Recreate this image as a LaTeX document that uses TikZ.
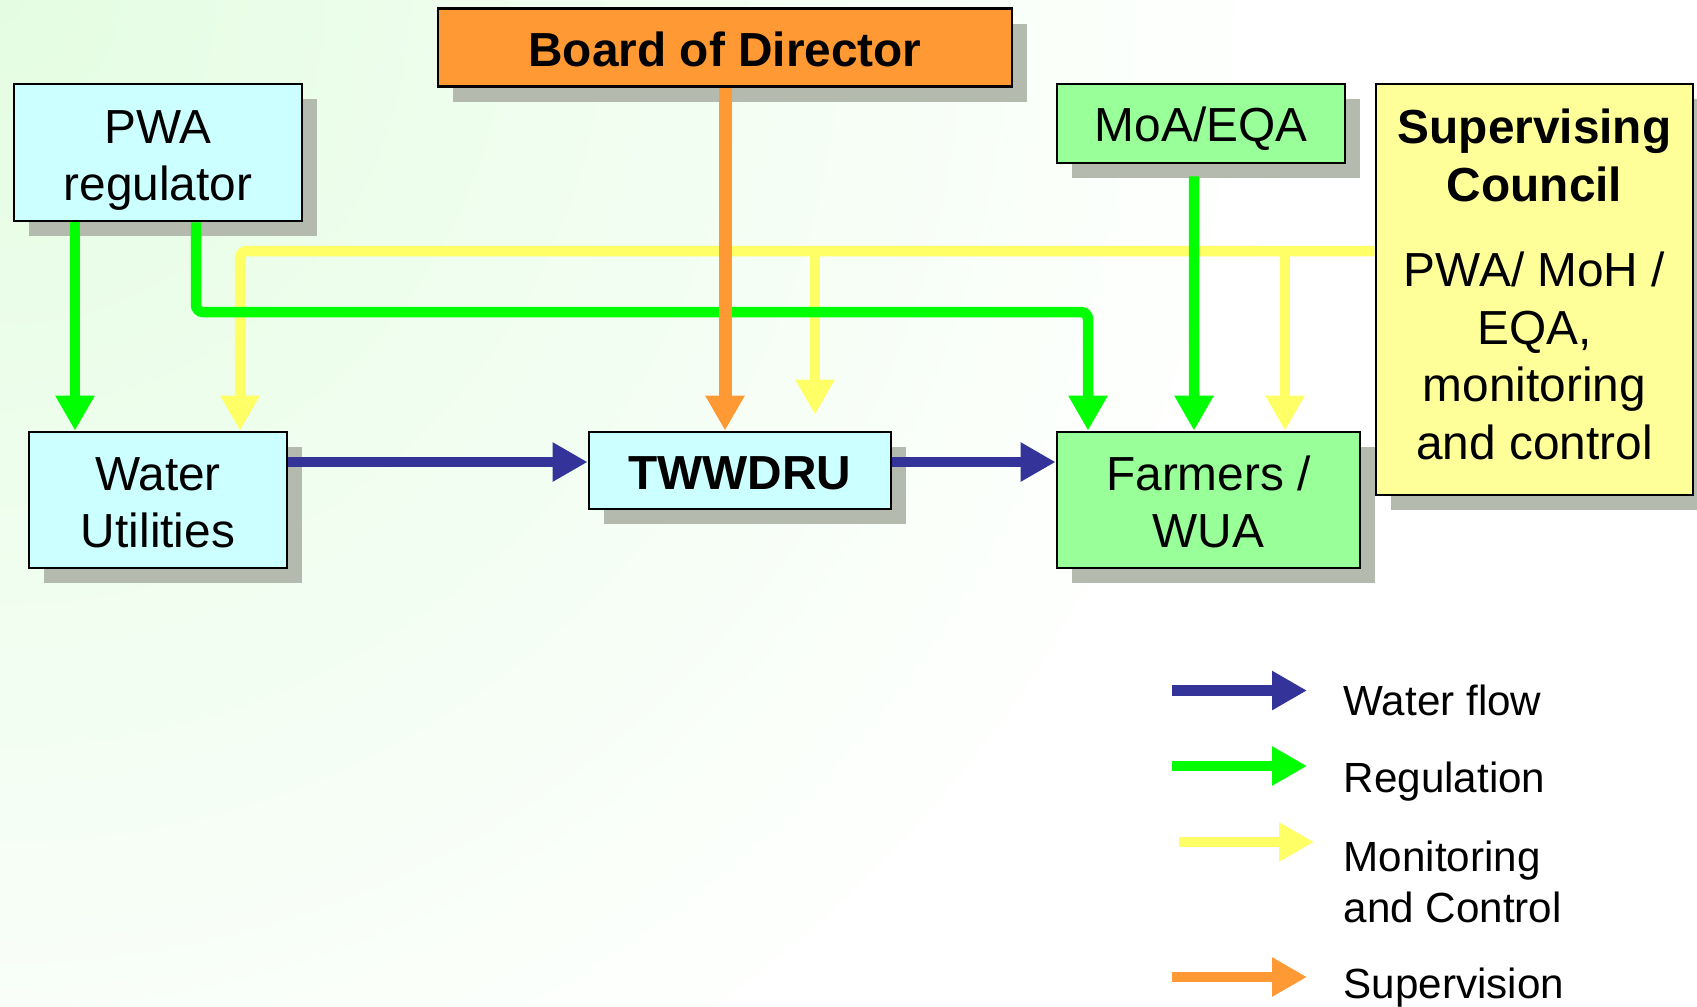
\documentclass[tikz,border=0pt]{standalone}
\usepackage{fontspec}
\setmainfont{Liberation Sans}
\usetikzlibrary{positioning, arrows.meta, shadows}

\definecolor{boxcyan}{RGB}{204,255,255}
\definecolor{boxgreen}{RGB}{153,255,153}
\definecolor{boxyellow}{RGB}{255,255,153}
\definecolor{boxorange}{RGB}{255,153,51}
\definecolor{flowblue}{RGB}{51,51,153}
\definecolor{reggreen}{RGB}{0,255,0}
\definecolor{monyellow}{RGB}{255,255,102}
\definecolor{shadowgray}{RGB}{180,186,174}
\definecolor{bggreen}{RGB}{228,253,226}

\begin{document}
\begin{tikzpicture}[
    unit/.style={draw, line width=0.8pt, inner sep=0pt,
        drop shadow={shadow xshift=0.15cm, shadow yshift=-0.15cm, fill=shadowgray, opacity=1}},
    agency/.style={unit, fill=boxcyan},
    field/.style={unit, fill=boxgreen},
    council/.style={unit, fill=boxyellow},
    board/.style={unit, fill=boxorange},
    boxtext/.style={align=center, inner sep=0pt, font=\fontsize{13.6}{16.2}\selectfont},
    key/.style={anchor=west, align=left, inner sep=0pt, font=\fontsize{12}{14.5}\selectfont},
    arr/.style={-{Triangle[length=0.35cm, width=0.37cm]}, line width=0.105cm},
    flowarr/.style={arr, flowblue},
    regarr/.style={arr, reggreen, rounded corners=2pt},
    monarr/.style={arr, monyellow, rounded corners=2pt},
    suparr/.style={arr, boxorange, line width=0.13cm},
]

% --- background ---
\fill[white] (0,0) rectangle (16.97,-10.06);
\begin{scope}
  \clip (0,0) rectangle (16.97,-10.06);
  \shade[inner color=bggreen, outer color=white] (0,0) circle (13cm);
\end{scope}
\useasboundingbox (0,0) rectangle (16.97,-10.06);

% --- Boxes ---
\node[board, minimum width=5.74cm, minimum height=0.78cm,
    label={[boxtext, font=\fontsize{13.6}{16.2}\selectfont\bfseries, yshift=-0.02cm]center:Board of Director}] (BoD) at (7.25,-0.477) {};
\node[agency, minimum width=2.88cm, minimum height=1.37cm,
    label={[boxtext, yshift=-0.076cm]center:PWA\\regulator}] (PWA) at (1.58,-1.525) {};
\node[field, minimum width=2.88cm, minimum height=0.79cm,
    label={[boxtext, yshift=-0.054cm]center:MoA/EQA}] (MoA) at (12.01,-1.235) {};
\node[council, minimum width=3.17cm, minimum height=4.11cm,
    label={[boxtext, font=\fontsize{13.6}{16.45}\selectfont, yshift=0.05cm]center:\textbf{Supervising}\\\textbf{Council}\\[0.27cm]PWA/ MoH /\\EQA,\\monitoring\\and control}] (SC) at (15.345,-2.895) {};
\node[agency, minimum width=2.58cm, minimum height=1.36cm,
    label={[boxtext, yshift=-0.027cm]center:Water\\Utilities}] (WU) at (1.58,-5.0) {};
\node[agency, minimum width=3.02cm, minimum height=0.77cm,
    label={[boxtext, font=\fontsize{13.6}{16.2}\selectfont\bfseries, yshift=-0.03cm]center:TWWDRU}] (TW) at (7.40,-4.705) {};
\node[field, minimum width=3.03cm, minimum height=1.36cm,
    label={[boxtext, yshift=-0.022cm]center:Farmers /\\WUA}] (FW) at (12.085,-5.0) {};

% --- Monitoring and control (yellow) ---
\coordinate (mb1) at (8.15,-2.51);
\coordinate (mb2) at (12.85,-2.51);
\draw[monarr] ([yshift=0.385cm]SC.west) -| ([xshift=0.82cm]WU.north);
\draw[monarr] (mb1) -- ([xshift=0.75cm, yshift=0.16cm]TW.north);
\draw[monarr] (mb2) -- (mb2 |- FW.north);

% --- Regulation (green) ---
\draw[regarr] ([xshift=-0.83cm]PWA.south) -- ([xshift=-0.83cm]WU.north);
\draw[regarr] ([xshift=0.38cm]PWA.south) -- ++(0,-0.896) -| ([xshift=-1.205cm]FW.north);
\draw[regarr] ([xshift=-0.07cm, yshift=-0.12cm]MoA.south) -- ([xshift=-0.145cm]FW.north);

% --- Supervision (orange) ---
\draw[suparr] (BoD.south) -- (BoD.south |- TW.north);

% --- Water flow (blue) ---
\draw[flowarr] ([yshift=0.38cm]WU.east) -- ([yshift=0.38cm]WU.east -| TW.west);
\draw[flowarr] ([yshift=0.085cm]TW.east) -- ([yshift=0.085cm]TW.east -| FW.west);

% --- Legend ---
\coordinate (k1a) at (11.72,-6.905);  \coordinate (k1b) at (13.07,-6.905);
\coordinate (k2a) at (11.72,-7.66);   \coordinate (k2b) at (13.07,-7.66);
\coordinate (k3a) at (11.79,-8.42);   \coordinate (k3b) at (13.14,-8.42);
\coordinate (k4a) at (11.72,-9.77);   \coordinate (k4b) at (13.07,-9.77);
\draw[flowarr] (k1a) -- (k1b);
\draw[regarr] (k2a) -- (k2b);
\draw[monarr] (k3a) -- (k3b);
\draw[suparr, line width=0.105cm] (k4a) -- (k4b);
\node[key] (kflow) at (13.43,-7.0) {Water flow};
\node[key] (kreg) at (13.43,-7.82) {Regulation};
\node[key] (kmon) at (13.43,-8.82) {Monitoring\\and Control};
\node[key] (ksup) at (13.43,-9.88) {Supervision};

\end{tikzpicture}
\end{document}
